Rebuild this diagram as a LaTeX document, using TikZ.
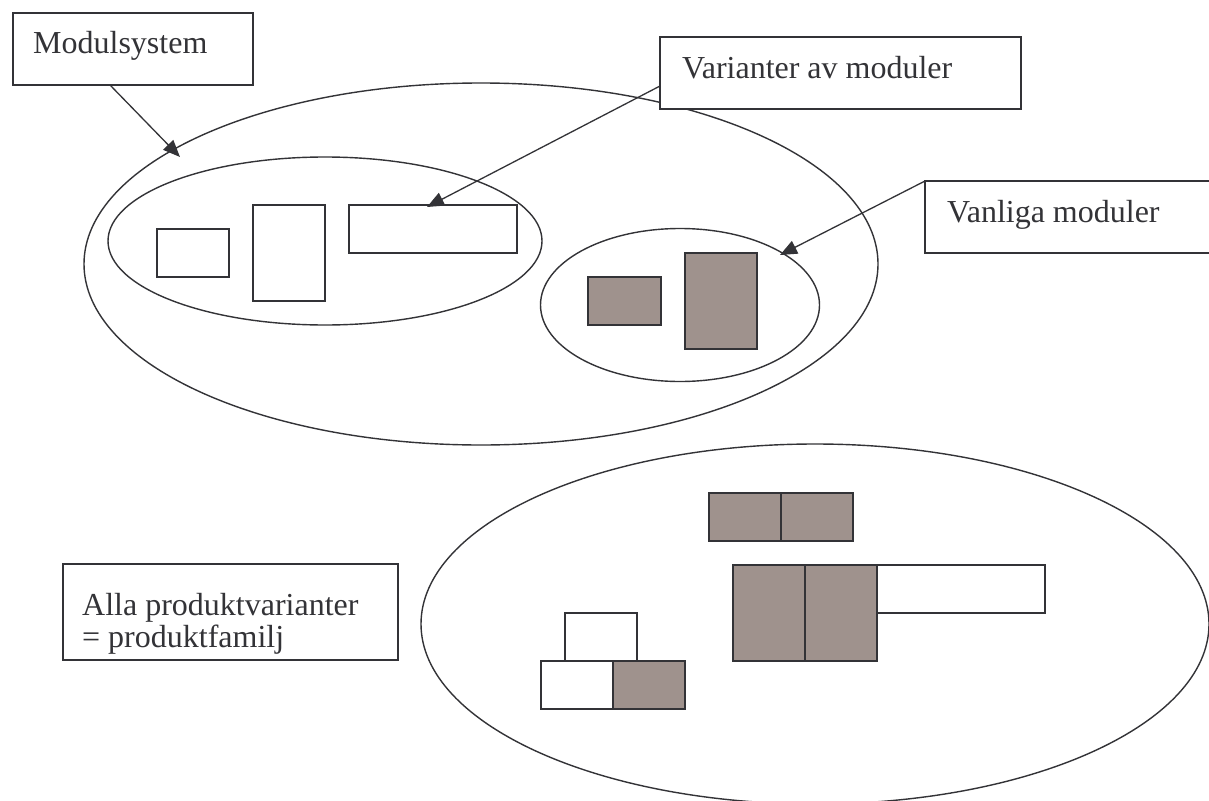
\documentclass[tikz,border=0pt]{standalone}
\usepackage{fontspec}
\setmainfont{Liberation Serif}
\usetikzlibrary{shapes.geometric,arrows.meta,calc}
\definecolor{ink}{RGB}{51,51,55}
\definecolor{modgray}{RGB}{159,146,141}
\tikzset{
  txtbox/.style={draw=ink,line width=1.5pt,fill=white,inner sep=0pt,outer sep=0pt,anchor=north west},
  lbl/.style={inner sep=0pt,anchor=base west,text=ink,font=\fontsize{32}{32}\selectfont},
  oval/.style={ellipse,draw=ink,line width=1.4pt,inner sep=0pt,outer sep=0pt},
  modw/.style={draw=ink,line width=1.5pt,fill=white},
  modg/.style={draw=ink,line width=1.5pt,fill=modgray},
  pointer/.style={draw=ink,line width=1.3pt,-{Triangle[length=17pt,width=14pt]}}
}
\begin{document}
\begin{tikzpicture}[x=1pt,y=-1pt]
\clip (0,0) rectangle (1209,800);
\fill[white] (0,0) rectangle (1209,800);
% ellipses
\node[oval,minimum width=794pt,minimum height=362pt] (sys) at (481,264) {};
\node[oval,minimum width=434pt,minimum height=168pt] (var) at (325,241) {};
\node[oval,minimum width=279pt,minimum height=153pt] (van) at (680,305) {};
\node[oval,minimum width=788pt,minimum height=360pt] (fam) at (815,624) {};
% modules in variant ellipse
\draw[modw] (157,229) rectangle (229,277);
\draw[modw] (253,205) rectangle (325,301);
\draw[modw] (349,205) rectangle (517,253);
% common modules
\draw[modg] (588,277) rectangle (661,325);
\draw[modg] (685,253) rectangle (757,349);
% product family
\draw[modg] (709,493) rectangle (781,541);
\draw[modg] (781,493) rectangle (853,541);
\draw[modg] (733,565) rectangle (805,661);
\draw[modg] (805,565) rectangle (877,661);
\draw[modw] (877,565) rectangle (1045,613);
\draw[modw] (565,613) rectangle (637,661);
\draw[modw] (541,661) rectangle (613,709);
\draw[modg] (613,661) rectangle (685,709);
% text boxes
\node[txtbox,minimum width=240pt,minimum height=72pt] (ms) at (13,13) {};
\node[lbl] at ($(ms.north west)+(20,41)$) {Modulsystem};
\node[txtbox,minimum width=361pt,minimum height=72pt] (va) at (660,37) {};
\node[lbl] at ($(va.north west)+(22,41)$) {Varianter av moduler};
\node[txtbox,minimum width=320pt,minimum height=72pt] (vm) at (925,181) {};
\node[lbl] at ($(vm.north west)+(22,41)$) {Vanliga moduler};
\node[txtbox,minimum width=335pt,minimum height=96pt] (pf) at (63,564) {};
\node[lbl] at ($(pf.north west)+(19,51)$) {Alla produktvarianter};
\node[lbl] at ($(pf.north west)+(19,83)$) {= produktfamilj};
% pointers
\coordinate (tipms) at (180,157);
\coordinate (tipva) at (427,207);
\coordinate (tipvm) at (780,255);
\draw[pointer] ($(ms.south west)+(97,0)$) -- (tipms);
\draw[pointer] ($(va.south west)+(0,-23)$) -- (tipva);
\draw[pointer] (vm.north west) -- (tipvm);
\end{tikzpicture}
\end{document}
